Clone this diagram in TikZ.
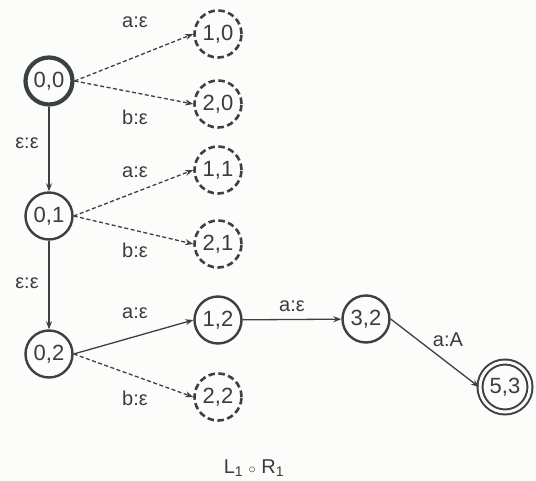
\documentclass[tikz,border=0pt]{standalone}
\usepackage{fontspec}
\setmainfont{Liberation Sans}
\usetikzlibrary{arrows.meta}
\definecolor{ink}{RGB}{58,66,64}
\definecolor{txt}{RGB}{60,60,60}
\definecolor{paper}{RGB}{252,252,250}
\tikzset{
  st/.style={circle, draw=ink, line width=2.4pt, minimum size=47pt, inner sep=0pt, text=txt,
             font=\fontsize{22}{26}\selectfont},
  start/.style={st, line width=4.2pt},
  dead/.style={st, line width=2.6pt, dash pattern=on 6.5pt off 3.5pt},
  final/.style={st, line width=2pt, double=paper, double distance=3pt, minimum size=50pt},
  tr/.style={draw=ink, line width=1.3pt, -{Stealth[length=8pt,width=6pt]}},
  dtr/.style={tr, dash pattern=on 4pt off 2.5pt},
  lab/.style={text=txt, font=\fontsize{20}{24}\selectfont, inner sep=0pt}
}
\begin{document}
\begin{tikzpicture}[x=1pt,y=-1pt]
\fill[paper] (0,0) rectangle (536,481);
\useasboundingbox (0,0) rectangle (536,481);
% states
\node[start] (n00) at (49,81) {0,0};
\node[dead]  (n10) at (218,34) {1,0};
\node[dead]  (n20) at (218,104) {2,0};
\node[st]    (n01) at (49,216) {0,1};
\node[dead]  (n11) at (218,170) {1,1};
\node[dead]  (n21) at (218,244) {2,1};
\node[st]    (n02) at (49,354) {0,2};
\node[st]    (n12) at (218,320) {1,2};
\node[dead]  (n22) at (218,397) {2,2};
\node[st]    (n32) at (366,319) {3,2};
\node[final] (n53) at (505,387) {5,3};
% transitions
\draw[dtr] (n00.east) -- (n10.west);
\draw[dtr] (n00.east) -- (n20.west);
\draw[tr]  (n00) -- (n01);
\draw[dtr] (n01.east) -- (n11.west);
\draw[dtr] (n01.east) -- (n21.west);
\draw[tr]  (n01) -- (n02);
\draw[tr]  (n02.east) -- (n12.west);
\draw[dtr] (n02.east) -- (n22.west);
\draw[tr]  (n12) -- (n32);
\draw[tr]  (n32.east) -- (n53.west);
% labels
\node[lab] (l1) at (135,22) {a:ε};
\node[lab] (l2) at (135,117) {b:ε};
\node[lab] (l3) at (27,143) {ε:ε};
\node[lab] (l4) at (135,172) {a:ε};
\node[lab] (l5) at (135,250) {b:ε};
\node[lab] (l6) at (27,283) {ε:ε};
\node[lab] (l7) at (135,313) {a:ε};
\node[lab] (l8) at (135,398) {b:ε};
\node[lab] (l9) at (292,306) {a:ε};
\node[lab] (l10) at (448,340) {a:A};
\node[lab] (cap) at (254,468) {L\textsubscript{1} $\scriptstyle\circ$ R\textsubscript{1}};
\end{tikzpicture}
\end{document}
